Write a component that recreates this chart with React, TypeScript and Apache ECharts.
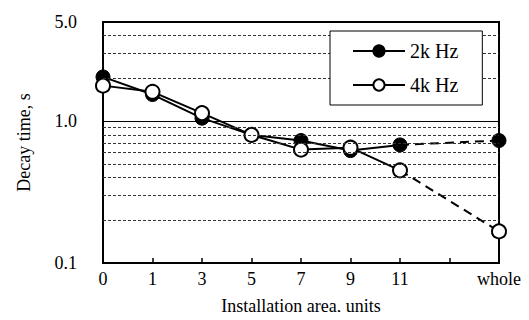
import React, { useEffect, useRef } from "react";
import * as echarts from "echarts";

const categories = ["0", "1", "3", "5", "7", "9", "11", "", "whole"];
const hz2k: (number | null)[] = [2.05, 1.54, 1.05, 0.8, 0.73, 0.62, 0.68, null, 0.73];
const hz4k: (number | null)[] = [1.78, 1.61, 1.14, 0.8, 0.63, 0.65, 0.45, null, 0.167];
const minorGrid = [0.2, 0.3, 0.4, 0.5, 0.6, 0.7, 0.8, 0.9, 2, 3, 4];
const yMin = 0.1;
const yMax = 5;

const FONT = "'Liberation Serif', 'Times New Roman', serif";

function dashedPart(arr: (number | null)[]) {
  // connect the last measured point (11) to "whole" with a dashed segment
  return arr.map((v, i) => (i === 6 || i === 8 ? v : null));
}

export default function App() {
  const ref = useRef<HTMLDivElement>(null);
  useEffect(() => {
    if (!ref.current) return;
    const chart = echarts.init(ref.current, undefined, { renderer: "svg" });
    const solidLine = { color: "#000", width: 2, type: "solid" as const };
    const dashLine = { color: "#000", width: 2, type: [9, 6] as any };
    chart.setOption({
      animation: false,
      backgroundColor: "#fff",
      textStyle: { fontFamily: FONT, color: "#000" },
      grid: {
        left: 103,
        right: 30,
        top: 22,
        bottom: 53,
        show: true,
        borderColor: "#000",
        borderWidth: 2,
        containLabel: false,
      },
      legend: {
        data: ["2k Hz", "4k Hz"],
        orient: "vertical",
        left: 330,
        top: 31,
        backgroundColor: "#fff",
        borderColor: "#000",
        borderWidth: 1,
        padding: [10, 24, 10, 22],
        itemWidth: 52,
        itemHeight: 14,
        itemGap: 14,
        textStyle: { fontFamily: FONT, fontSize: 20, color: "#000" },
        z: 10,
      },
      xAxis: {
        type: "category",
        data: categories,
        boundaryGap: false,
        name: "Installation area, units",
        nameLocation: "middle",
        nameGap: 34,
        nameTextStyle: { fontFamily: FONT, fontSize: 18, color: "#000" },
        axisLine: { lineStyle: { color: "#000", width: 2 } },
        axisTick: { inside: true, length: 5, interval: 0, lineStyle: { color: "#000", width: 1.5 } },
        axisLabel: { fontFamily: FONT, fontSize: 18, color: "#000", margin: 7, interval: 0 },
        splitLine: { show: false },
      },
      yAxis: {
        type: "log",
        logBase: 10,
        min: yMin,
        max: yMax,
        name: "Decay time, s",
        nameLocation: "middle",
        nameGap: 70,
        nameTextStyle: { fontFamily: FONT, fontSize: 18, color: "#000" },
        axisLine: { show: true, lineStyle: { color: "#000", width: 2 } },
        axisTick: { show: false },
        axisLabel: {
          fontFamily: FONT,
          fontSize: 18,
          color: "#000",
          margin: 26,
          formatter: (v: number) => Number(v).toFixed(1),
        },
        splitLine: { show: true, lineStyle: { color: "#000", width: 1, type: "solid" } },
        minorTick: { show: false },
      },
      series: [
        {
          name: "2k Hz dashed",
          type: "line",
          data: dashedPart(hz2k),
          connectNulls: true,
          showSymbol: false,
          symbol: "none",
          lineStyle: dashLine,
          z: 2,
          markLine: {
            silent: true,
            symbol: "none",
            label: { show: false },
            lineStyle: { color: "#333", width: 1, type: [3, 2] as any },
            data: minorGrid.map((v) => ({ yAxis: v })),
          },
        },
        {
          name: "4k Hz dashed",
          type: "line",
          data: dashedPart(hz4k),
          connectNulls: true,
          showSymbol: false,
          symbol: "none",
          lineStyle: dashLine,
          z: 2,
        },
        {
          name: "2k Hz",
          type: "line",
          data: hz2k,
          connectNulls: false,
          symbol: "circle",
          symbolSize: 14,
          lineStyle: solidLine,
          itemStyle: { color: "#000", borderColor: "#000", borderWidth: 1 },
          z: 3,
        },
        {
          name: "4k Hz",
          type: "line",
          data: hz4k,
          connectNulls: false,
          symbol: "circle",
          symbolSize: 14,
          lineStyle: solidLine,
          itemStyle: { color: "#fff", borderColor: "#000", borderWidth: 2 },
          z: 4,
        },
      ],
    });
    return () => chart.dispose();
  }, []);
  return <div ref={ref} style={{ width: 529, height: 320, margin: -8 }} />;
}
